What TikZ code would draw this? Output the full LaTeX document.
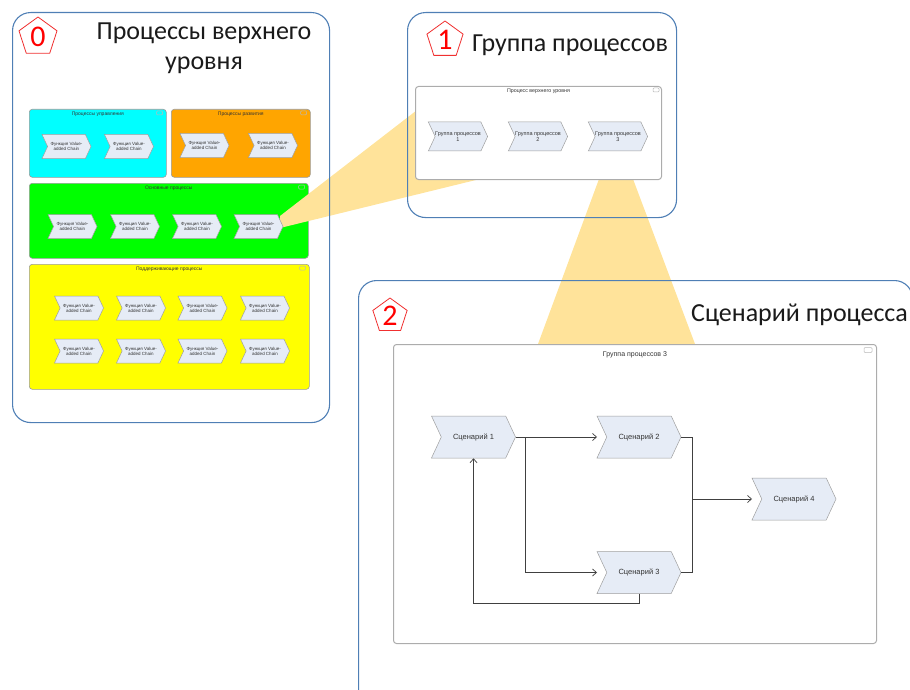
\documentclass[tikz,border=0pt]{standalone}
\usepackage{fontspec}
\setmainfont{Carlito}
\newfontfamily\arialf{Liberation Sans}
\usetikzlibrary{shapes.symbols,shapes.geometric,calc,arrows.meta}
\definecolor{panelblue}{HTML}{4F7FB5}
\definecolor{conecol}{HTML}{FFE39A}
\definecolor{chevfill}{HTML}{E6ECF6}
\definecolor{boxgray}{HTML}{9A9A9A}
\definecolor{titlegray}{HTML}{1A1A1A}
\definecolor{gcyan}{HTML}{00FFFF}
\definecolor{gorange}{HTML}{FFA500}
\definecolor{ggreen}{HTML}{00FF00}
\definecolor{gyellow}{HTML}{FFFF00}
\definecolor{pentred}{HTML}{F03030}
\begin{document}
\begin{tikzpicture}[x=1pt,y=-1pt,
  panel/.style={draw=panelblue, line width=1.1pt, rounded corners=18pt, anchor=north west, inner sep=0pt},
  pent/.style={regular polygon, regular polygon sides=5, draw=pentred, line width=0.8pt, fill=white, minimum size=40pt, inner sep=0pt, text=red, font=\fontsize{30}{30}\selectfont},
  bigtitle/.style={font=\fontsize{26}{30}\selectfont, text=titlegray, inner sep=0pt},
  grp/.style={draw=boxgray, line width=0.6pt, rounded corners=3pt, anchor=north west, inner sep=0pt},
  gtitle/.style={font=\arialf\fontsize{5}{6}\selectfont, text=black!80, inner sep=0pt, anchor=north},
  icon/.style={draw=gray!55, line width=0.5pt, rounded corners=1pt, minimum width=6pt, minimum height=4pt, inner sep=0pt},
  chev/.style={signal, signal to=east, signal from=west, signal pointer angle=130, draw=gray!75, line width=0.5pt, fill=chevfill, inner sep=0pt, align=center, text=black!80},
  chevS/.style={chev, minimum width=49pt, minimum height=24pt, font=\arialf\fontsize{4.5}{5.2}\selectfont},
  chevM/.style={chev, minimum width=58pt, minimum height=29pt, font=\arialf\fontsize{5.5}{6.2}\selectfont},
  chevL/.style={chev, minimum width=84pt, minimum height=42pt, font=\arialf\fontsize{7.5}{9}\selectfont},
  innerbox/.style={draw=gray!65, line width=1pt, fill=white, rounded corners=3pt, anchor=north west, inner sep=0pt},
  link/.style={draw=black!75, line width=0.7pt},
  arr/.style={link, -{Straight Barb[length=4pt,width=7pt]}},
  conefill/.style={fill=conecol, draw=none}
]
\useasboundingbox (0,0) rectangle (910,690);
\clip (0,0) rectangle (910,690);

% ---------- panel 0 coloured groups
\node[grp, fill=gcyan, minimum width=137pt, minimum height=68pt] (g1) at (29,109) {};
\node[grp, fill=gorange, minimum width=139pt, minimum height=68pt] (g2) at (171,109) {};
\node[grp, fill=ggreen, minimum width=279pt, minimum height=75pt] (g3) at (29,183) {};
\node[grp, fill=gyellow, minimum width=280pt, minimum height=125pt] (g4) at (29,264) {};

% ---------- zoom cones
\path[conefill] (280,216) -- (430,100) -- (480,179) -- (280,228) -- cycle;
\path[conefill] (599,179) -- (633,179) -- (695,344) -- (538,344) -- cycle;

% ---------- panels
\node[panel, minimum width=317pt, minimum height=410pt] (p0) at (12,12) {};
\node[panel, minimum width=269pt, minimum height=205pt] (p1) at (407,12) {};
\node[panel, minimum width=554pt, minimum height=440pt] (p2) at (358,280) {};

\node[pent] (n0) at (38,37) {\raisebox{-2.5pt}{0}};
\node[pent, minimum size=38pt] (n1) at (445,40) {\raisebox{-2.5pt}{1}};
\node[pent, minimum size=36pt] (n2) at (390,316) {\raisebox{-2.5pt}{2}};

\node[bigtitle, align=center] (t0) at (204,48) {Процессы верхнего\\уровня};
\node[bigtitle, anchor=base west] (t1) at (472,52) {Группа процессов};
\node[bigtitle, anchor=base east] (t2) at (908,321) {Сценарий процесса};

% ---------- panel 0 contents
\node[gtitle] (g1t) at ($(g1.north)+(0,3)$) {Процессы управления};
\node[gtitle] (g2t) at ($(g2.north)+(0,3)$) {Процессы развития};
\node[gtitle] (g3t) at ($(g3.north)+(0,3)$) {Основные процессы};
\node[gtitle] (g4t) at ($(g4.north)+(0,3)$) {Поддерживающие процессы};
\node[icon] (g1i) at ($(g1.north east)+(-7,4)$) {};
\node[icon] (g2i) at ($(g2.north east)+(-7,4)$) {};
\node[icon] (g3i) at ($(g3.north east)+(-7,4)$) {};
\node[icon] (g4i) at ($(g4.north east)+(-7,4)$) {};

\node[chevS] (c11) at (66.5,146.5) {Функция Value-\\added Chain};
\node[chevS] (c12) at (129,146.5) {Функция Value-\\added Chain};
\node[chevS] (c21) at (204.5,145.5) {Функция Value-\\added Chain};
\node[chevS] (c22) at (273,145.5) {Функция Value-\\added Chain};
\foreach \x [count=\i] in {72.5,135,197,258.5}
  \node[chevS] (c3\i) at (\x,226.5) {Функция Value-\\added Chain};
\foreach \x [count=\i] in {79,141,202.5,265}{
  \node[chevS] (c4\i) at (\x,308) {Функция Value-\\added Chain};
  \node[chevS] (c5\i) at (\x,351) {Функция Value-\\added Chain};
}

% ---------- panel 1 contents
\node[innerbox, minimum width=246pt, minimum height=93pt] (b1) at (415,86) {};
\node[gtitle, font=\arialf\fontsize{5.3}{6}\selectfont] (b1t) at ($(b1.north)+(0,3)$) {Процесс верхнего уровня};
\node[icon] (b1i) at ($(b1.north east)+(-6,4)$) {};
\node[chevM] (pg1) at (458,136.5) {Группа процессов\\1};
\node[chevM] (pg2) at (538,136.5) {Группа процессов\\2};
\node[chevM] (pg3) at (618,136.5) {Группа процессов\\3};

% ---------- panel 2 contents
\node[innerbox, minimum width=483pt, minimum height=299pt] (b2) at (393,344) {};
\node[gtitle, font=\arialf\fontsize{7}{8}\selectfont] (b2t) at ($(b2.north)+(0,7)$) {Группа процессов 3};
\node[icon, minimum width=8pt, minimum height=5pt] (b2i) at ($(b2.north east)+(-9,6)$) {};

\node[chevL] (s1) at (473.5,437) {Сценарий 1};
\node[chevL] (s2) at (639,437) {Сценарий 2};
\node[chevL] (s3) at (639,572.5) {Сценарий 3};
\node[chevL] (s4) at (794,499) {Сценарий 4};

\coordinate (j1) at ($(s1.east)+(10,0)$);
\coordinate (j2) at ($(s2.east)+(11,62)$);
\coordinate (s2in) at ($(s2.center)+(-42,0)$);
\coordinate (s3in) at ($(s3.center)+(-42,0)$);
\coordinate (s4in) at ($(s4.center)+(-42,0)$);

\draw[link] (s1.east) -- (j1);
\draw[arr] (j1) -- (s2in);
\draw[arr] (j1) |- (s3in);
\draw[link] (s2.east) -| (j2);
\draw[link] (s3.east) -| (j2);
\draw[arr] (j2) -- (s4in);
\draw[arr] (s3.south) -- ++(0,10) -| (s1.south);
\end{tikzpicture}
\end{document}
